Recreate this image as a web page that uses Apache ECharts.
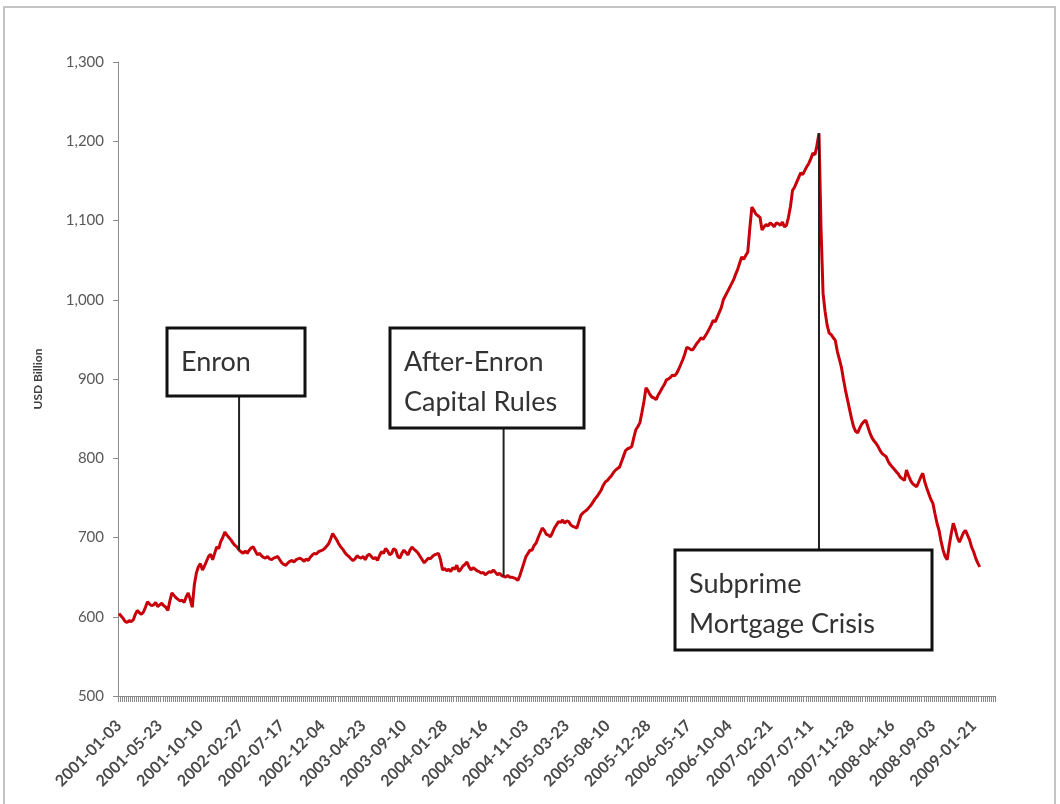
<!DOCTYPE html>
<html>
<head>
<meta charset="utf-8">
<script src="https://cdn.jsdelivr.net/npm/echarts@6/dist/echarts.min.js"></script>
<style>
  html, body { margin: 0; padding: 0; background: #fff; }
  #chart { width: 1060px; height: 804px; }
</style>
</head>
<body>
<div id="chart"></div>
<script>
// weekly series, first week 2001-01-03
const startDate = '2001-01-03'
const weekCount = 431

// USD billion, one value per week
const weeklyValues = [
  604, 601, 598, 594, 593, 595, 594, 596, 603, 608,
  605, 603, 606, 612, 619, 616, 614, 615, 618, 613,
  615, 617, 614, 612, 608, 620, 630, 627, 624, 622,
  620, 621, 618, 625, 630, 622, 612, 640, 655, 663,
  667, 659, 664, 670, 676, 679, 672, 680, 688, 686,
  695, 700, 707, 703, 700, 697, 693, 690, 688, 684,
  682, 680, 683, 680, 684, 687, 688, 683, 678, 680,
  677, 675, 674, 676, 673, 672, 674, 675, 676, 672,
  668, 666, 665, 668, 670, 671, 669, 672, 673, 674,
  672, 670, 673, 671, 675, 678, 680, 679, 682, 683,
  684, 686, 689, 692, 698, 705, 701, 697, 692, 688,
  685, 681, 678, 676, 673, 671, 673, 677, 675, 674,
  676, 672, 677, 679, 676, 673, 675, 671, 677, 682,
  680, 686, 683, 678, 680, 686, 684, 676, 674, 680,
  684, 681, 678, 684, 688, 685, 683, 680, 676, 672,
  668, 671, 674, 673, 676, 678, 679, 680, 672, 659,
  661, 658, 660, 657, 662, 660, 665, 657, 660, 664,
  666, 669, 663, 659, 662, 660, 658, 657, 655, 656,
  653, 655, 657, 656, 659, 656, 653, 655, 652, 651,
  650, 652, 650, 650, 649, 648, 646, 652, 660, 668,
  676, 680, 684, 684, 690, 693, 700, 706, 712, 709,
  704, 703, 701, 706, 712, 716, 720, 719, 722, 718,
  721, 720, 716, 714, 713, 712, 720, 728, 731, 733,
  735, 738, 741, 745, 749, 752, 756, 760, 766, 770,
  772, 775, 778, 782, 785, 787, 789, 796, 803, 810,
  812, 813, 815, 826, 836, 840, 845, 858, 872, 889,
  885, 880, 877, 876, 874, 880, 884, 889, 893, 899,
  900, 902, 905, 904, 907, 912, 918, 924, 931, 940,
  939, 937, 937, 941, 945, 948, 952, 950, 954, 958,
  963, 968, 974, 972, 978, 984, 990, 1000, 1005, 1010,
  1015, 1020, 1025, 1032, 1038, 1046, 1054, 1051, 1056, 1060,
  1090, 1117, 1113, 1108, 1106, 1104, 1088, 1092, 1095, 1093,
  1097, 1095, 1092, 1097, 1096, 1094, 1098, 1092, 1094, 1104,
  1118, 1138, 1142, 1148, 1154, 1160, 1158, 1163, 1168, 1172,
  1178, 1185, 1183, 1195, 1210, 1090, 1008, 985, 968, 958,
  956, 952, 949, 935, 925, 915, 900, 886, 874, 862,
  850, 840, 834, 832, 838, 843, 846, 848, 840, 832,
  826, 822, 819, 815, 810, 806, 804, 802, 796, 792,
  789, 786, 783, 780, 776, 774, 772, 785, 778, 772,
  768, 766, 764, 770, 776, 781, 770, 762, 755, 748,
  743, 730, 718, 709, 695, 684, 676, 672, 690, 705,
  718, 710, 700, 694, 700, 706, 709, 703, 697, 688,
  682, 674, 668, 663,
]

const yTicks = [500, 600, 700, 800, 900, 1000, 1100, 1200, 1300]
const labelEvery = 20

// callouts: label, week index the leader points at
const calloutText = ['Enron', 'After-Enron\nCapital Rules', 'Subprime\nMortgage Crisis']
const calloutWeek = [59, 189, 344]

const fmtDate = (d) => d.toISOString().slice(0, 10)
const weeks = []
{
  const d0 = new Date(startDate + 'T00:00:00Z')
  for (let i = 0; i < weekCount; i++) {
    weeks.push(fmtDate(new Date(d0.getTime() + i * 7 * 86400000)))
  }
}

const chart = echarts.init(document.getElementById('chart'))
chart.setOption({
  animation: false,
  backgroundColor: '#fff',
  grid: { left: 118, right: 65, top: 62, bottom: 108 },
  xAxis: {
    type: 'category',
    data: weeks,
    boundaryGap: true,
    axisLine: { lineStyle: { color: '#8c8c8c', width: 1 } },
    axisTick: { show: true, interval: 0, length: 6, lineStyle: { color: '#8a8a8a', width: 1 } },
    axisLabel: {
      interval: (i) => i % labelEvery === 0,
      rotate: 45,
      margin: 27,
      fontFamily: 'Lato',
      fontSize: 16,
      fontWeight: 'bold',
      color: '#4a4a4a',
    },
  },
  yAxis: {
    type: 'value',
    min: yTicks[0],
    max: yTicks[yTicks.length - 1],
    interval: 100,
    name: 'USD Billion',
    nameLocation: 'middle',
    nameGap: 74,
    nameRotate: 90,
    nameTextStyle: { fontFamily: 'Lato', fontWeight: 'bold', fontSize: 12, color: '#404040' },
    splitLine: { show: false },
    axisLine: { show: true, lineStyle: { color: '#8c8c8c', width: 1 } },
    axisTick: { show: true, length: 5, lineStyle: { color: '#8c8c8c' } },
    axisLabel: {
      margin: 14,
      fontFamily: 'Lato',
      fontSize: 15,
      color: '#595959',
      formatter: (v) => v.toLocaleString('en-US'),
    },
  },
  series: [
    {
      type: 'line',
      data: weeklyValues,
      symbol: 'none',
      lineStyle: { color: '#c8000a', width: 3 },
    },
  ],
})

// boxes for the callouts (layout only)
const boxes = [
  { x: 167, y: 328, w: 138, h: 68 },
  { x: 390, y: 328, w: 194, h: 100 },
  { x: 675, y: 550, w: 257, h: 100 },
]

const graphics = [
  {
    type: 'rect',
    shape: { x: 4, y: 7, width: 1051, height: 800 },
    style: { fill: 'none', stroke: '#c4c4c4', lineWidth: 2 },
    silent: true,
  },
]
calloutText.forEach((txt, i) => {
  const b = boxes[i]
  const wk = calloutWeek[i]
  const p = chart.convertToPixel({ gridIndex: 0 }, [wk, weeklyValues[wk]])
  const fromY = p[1] < b.y ? b.y : b.y + b.h
  graphics.push({
    type: 'line',
    shape: { x1: p[0], y1: fromY, x2: p[0], y2: p[1] },
    style: { stroke: '#222', lineWidth: 2 },
    z: 10,
  })
  graphics.push({
    type: 'rect',
    shape: { x: b.x, y: b.y, width: b.w, height: b.h },
    style: { fill: '#fff', stroke: '#111', lineWidth: 3 },
    z: 11,
  })
  graphics.push({
    type: 'text',
    x: b.x + 14,
    y: b.y + (b.h === 68 ? 34 : 14),
    style: {
      text: txt,
      fontFamily: 'Lato',
      fontSize: 27,
      lineHeight: 40,
      fill: '#333',
      verticalAlign: b.h === 68 ? 'middle' : 'top',
    },
    z: 12,
  })
})
chart.setOption({ graphic: graphics })
</script>
</body>
</html>
